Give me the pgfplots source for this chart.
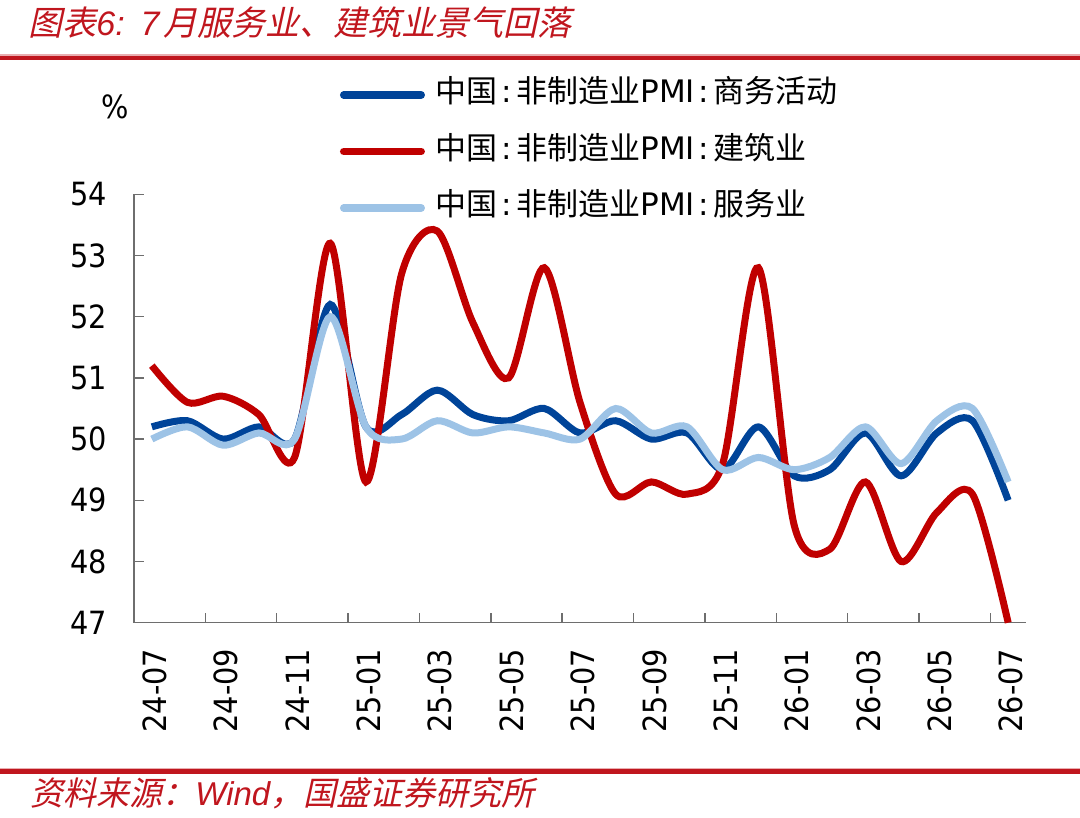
\documentclass[border=0pt]{standalone}
\usepackage{fontspec}
\usepackage{pgfplots}
\pgfplotsset{compat=1.18}
\usepackage{pgfplotstable}
\setmainfont{DejaVu Sans Condensed}
\newfontfamily\lgfont{DejaVu Sans}
\newfontfamily\cjk{Noto Sans CJK SC}
\newfontfamily\cjkit{Noto Sans CJK SC}[FakeSlant=0.22]
\newfontfamily\titlelat{Liberation Sans}
\definecolor{cblue}{RGB}{0,68,153}
\definecolor{cred}{RGB}{192,0,0}
\definecolor{clblue}{RGB}{157,195,230}
\definecolor{ctitle}{RGB}{192,22,30}
\definecolor{caxis}{RGB}{110,110,110}
\newcommand{\cl}{\hspace{2pt}:\hspace{2pt}}
\pgfplotstableread{
i blue red lblue
0 50.2 51.2 50.0
1 50.3 50.6 50.2
2 50.0 50.7 49.9
3 50.2 50.4 50.1
4 50.0 49.7 50.0
5 52.2 53.2 52.0
6 50.2 49.3 50.2
7 50.4 52.7 50.0
8 50.8 53.4 50.3
9 50.4 51.9 50.1
10 50.3 51.0 50.2
11 50.5 52.8 50.1
12 50.1 50.6 50.0
13 50.3 49.1 50.5
14 50.0 49.3 50.1
15 50.1 49.1 50.2
16 49.5 49.6 49.5
17 50.2 52.8 49.7
18 49.4 48.6 49.5
19 49.5 48.2 49.7
20 50.1 49.3 50.2
21 49.4 48.0 49.6
22 50.1 48.8 50.3
23 50.3 49.1 50.5
24 49.0 47.0 49.3
}\pmidata
\begin{document}
\begin{tikzpicture}
\path[use as bounding box] (0,0) rectangle (540pt,409pt);
% rules
\fill[ctitle!35] (0,381.15pt) rectangle (540pt,381.9pt);
\fill[ctitle] (0,379pt) rectangle (540pt,381.15pt);
\fill[ctitle!35] (0,24.35pt) rectangle (540pt,24.85pt);
\fill[ctitle] (0,21.85pt) rectangle (540pt,24.35pt);
% title
\node[anchor=base west, inner sep=0pt, text=ctitle, font=\fontsize{17}{17}\selectfont] at (14pt,391pt)
  {{\cjkit 图表}{\titlelat\itshape 6:\hspace{8pt}7\hspace{2pt}}{\cjkit 月服务业、建筑业景气回落}};
% source
\node[anchor=base west, inner sep=0pt, text=ctitle, font=\fontsize{16.5}{16.5}\selectfont] at (15pt,6pt)
  {{\cjkit 资料来源：}{\titlelat\itshape Wind}{\cjkit ，国盛证券研究所}};
% unit
\node[inner sep=0pt, font=\fontsize{16}{16}\selectfont] at (57.5pt,355.5pt) {\%};
\begin{axis}[
  at={(67pt,97.65pt)}, anchor=south west,
  scale only axis, width=446pt, height=214.2pt,
  xmin=-0.5, xmax=24.5, ymin=47, ymax=54,
  clip=false,
  axis x line*=bottom, axis y line*=left,
  axis line style={caxis, line width=0.7pt},
  every tick/.style={caxis, line width=0.7pt},
  tick align=inside,
  major tick length=5pt, minor tick length=5pt,
  ytick={47,48,...,54},
  xtick={0,2,...,24},
  xticklabels={24-07,24-09,24-11,25-01,25-03,25-05,25-07,25-09,25-11,26-01,26-03,26-05,26-07},
  major x tick style={draw=none},
  minor xtick={1.5,3.5,...,23.5},
  tick label style={font=\fontsize{16}{16}\selectfont},
  /pgf/number format/assume math mode=true,
  xticklabel style={anchor=east, yshift=-9.5pt, xshift=1.5pt, rotate=90},
  yticklabel style={xshift=-10pt},
  legend cell align=left,
  legend style={at={(0.2309,1.2645)}, anchor=north west, draw=none, fill=none,
    inner sep=0pt, outer sep=0pt, row sep=14.25pt,
    font=\fontsize{15.5}{15.5}\selectfont\lgfont,
    nodes={inner sep=0pt, text height=11pt, text depth=3pt}},
  legend image code/.code={\draw[#1, line cap=round, line width=3.8pt] (1.9pt,0pt) -- (40.6pt,0pt); \path[draw=none, fill=none] (0pt,0pt) -- (48pt,0pt);},
]
\addplot[cblue, line width=3.5pt, smooth, tension=0.5] table[x=i,y=blue]{\pmidata};
\addlegendentry{{\cjk 中国}\cl{\cjk 非制造业}PMI\cl{\cjk 商务活动}}
\addplot[cred, line width=3.5pt, smooth, tension=0.5] table[x=i,y=red]{\pmidata};
\addlegendentry{{\cjk 中国}\cl{\cjk 非制造业}PMI\cl{\cjk 建筑业}}
\addplot[clblue, line width=3.5pt, smooth, tension=0.5] table[x=i,y=lblue]{\pmidata};
\addlegendentry{{\cjk 中国}\cl{\cjk 非制造业}PMI\cl{\cjk 服务业}}
\end{axis}
\end{tikzpicture}
\end{document}
